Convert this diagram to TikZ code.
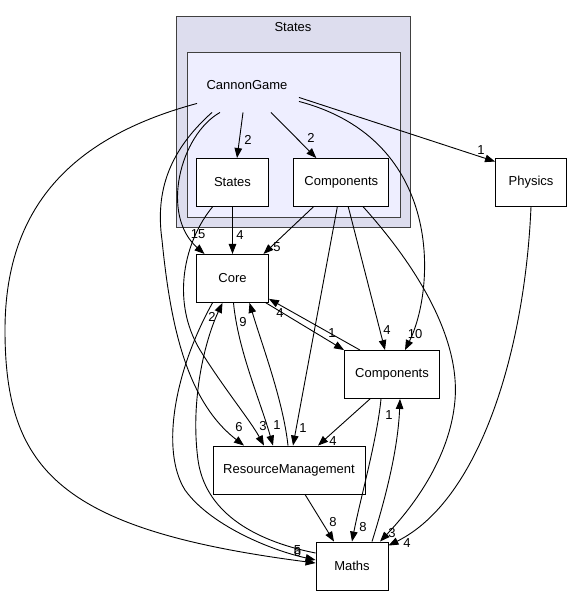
\documentclass[tikz,border=0pt]{standalone}
\usepackage{fontspec}
\setmainfont{Liberation Sans}
\usetikzlibrary{arrows.meta,positioning}

\definecolor{outerfill}{HTML}{DDDDEE}
\definecolor{innerfill}{HTML}{EEEEFF}

\begin{document}
\begin{tikzpicture}[->,>={Triangle[length=10pt,width=7.5pt]},x=1pt,y=1pt,
	line width=0.9pt,font=\fontsize{13}{15}\selectfont]
	\tikzstyle{dir}=[draw=black,fill=white,minimum height=48pt,inner sep=0pt]
	\tikzstyle{cluster}=[draw=black!75,inner sep=0pt]
	\tikzstyle{lbl}=[inner sep=0pt]

	\useasboundingbox (0,0) rectangle (573,-596);

	\node[cluster,fill=outerfill,minimum width=234pt,minimum height=211pt] (statesdir) at (293,-121.5) {};
	\node[lbl] (statestitle) at (293,-27) {States};
	\node[cluster,fill=innerfill,minimum width=213pt,minimum height=165pt] (cgdir) at (293.5,-134.5) {};
	\node[minimum width=112pt,minimum height=54pt,inner sep=0pt] (cg) at (247,-85) {CannonGame};

	\node[dir,minimum width=72pt] (states) at (232.5,-182.5) {States};
	\node[dir,minimum width=95pt] (compin) at (341.3,-182.5) {Components};
	\node[dir,minimum width=71pt] (physics) at (531,-182) {Physics};
	\node[dir,minimum width=72pt] (core) [below=47pt of states] {Core};
	\node[dir,minimum width=95pt] (compout) at (392,-374.5) {Components};
	\node[dir,minimum width=152pt] (rm) at (289,-470) {ResourceManagement};
	\node[dir,minimum width=72pt] (maths) at (352,-566) {Maths};

	\draw ([xshift=-4pt]cg.south) -- ([xshift=4.5pt]states.north)
		node[lbl,at={(248,-140)}] {2};
	\draw ([xshift=24pt]cg.south) -- ([xshift=-25pt]compin.north)
		node[lbl,at={(311,-138)}] {2};
	\draw ([xshift=52pt,yshift=15pt]cg.south) -- ([yshift=-4pt]physics.north west)
		node[lbl,at={(481,-150)}] {1};
	\draw ([xshift=52pt,yshift=11pt]cg.south) .. controls (445,-140) and (435,-290) .. ([xshift=13pt]compout.north)
		node[lbl,at={(415,-334)}] {10};
	\draw ([xshift=-27pt]cg.south) .. controls (180,-135) and (160,-215) .. ([xshift=-28pt]core.north)
		node[lbl,at={(198,-234)}] {15};
	\draw ([xshift=-35pt]cg.south) .. controls (170,-150) and (155,-190) .. (162,-240)
		.. controls (170,-320) and (185,-400) .. ([xshift=-45pt]rm.north)
		node[lbl,at={(239,-427)}] {6};
	\draw ([xshift=-50pt,yshift=9pt]cg.south) .. controls (80,-135) and (5,-200) .. (5,-330)
		.. controls (5,-470) and (60,-530) .. ([yshift=3pt]maths.west)
		node[lbl,at={(297.5,-552)}] {6};

	\draw (states.south) -- (core.north)
		node[lbl,at={(240,-235)}] {4};
	\draw ([xshift=-20pt]states.south) .. controls (185,-240) and (170,-300) .. (200,-350)
		.. controls (225,-390) and (250,-420) .. ([xshift=-25pt]rm.north)
		node[lbl,at={(263,-426)}] {3};

	\draw ([xshift=-28pt]compin.south) -- ([xshift=31pt]core.north)
		node[lbl,at={(277,-247)}] {5};
	\draw ([xshift=-4pt]compin.south) -- ([xshift=4pt]rm.north)
		node[lbl,at={(303,-428)}] {1};
	\draw ([xshift=7pt]compin.south) -- ([xshift=-7pt]compout.north)
		node[lbl,at={(387,-330)}] {4};
	\draw ([xshift=22pt]compin.south) .. controls (420,-270) and (460,-340) .. (455,-400)
		.. controls (450,-460) and (410,-510) .. ([xshift=28pt]maths.north)
		node[lbl,at={(392,-533)}] {3};

	\draw (physics.south) .. controls (525,-350) and (480,-500) .. ([yshift=-4pt]maths.north east)
		node[lbl,at={(407,-543)}] {4};

	\draw ([xshift=-3pt]core.south east) -- (compout.north west)
		node[lbl,at={(332,-333)}] {1};
	\draw ([xshift=-32pt]compout.north) -- ([yshift=4pt]core.south east)
		node[lbl,at={(280,-313)}] {4};
	\draw ([xshift=1pt]core.south) .. controls (238,-350) and (260,-400) .. ([xshift=-16pt]rm.north)
		node[lbl,at={(277,-425)}] {1};
	\draw ([xshift=-1pt]rm.north) .. controls (283,-400) and (262,-345) .. ([xshift=17pt]core.south)
		node[lbl,at={(243,-322)}] {9};
	\draw ([xshift=-20pt]core.south) .. controls (175,-370) and (160,-450) .. (185,-490)
		.. controls (210,-525) and (270,-550) .. ([yshift=6pt]maths.west)
		node[lbl,at={(297.5,-550)}] {5};
	\draw ([yshift=13pt]maths.west) .. controls (250,-540) and (205,-510) .. (198,-460)
		.. controls (190,-400) and (205,-340) .. ([xshift=-10pt]core.south)
		node[lbl,at={(212,-317)}] {2};

	\draw ([xshift=-22pt]compout.south) -- ([xshift=29pt]rm.north)
		node[lbl,at={(333,-441)}] {4};
	\draw ([xshift=-11pt]compout.south) .. controls (377,-440) and (360,-500) .. (maths.north)
		node[lbl,at={(363,-527)}] {8};
	\draw ([xshift=20pt]maths.north) .. controls (385,-500) and (398,-450) .. ([xshift=8pt]compout.south)
		node[lbl,at={(389,-415)}] {1};

	\draw ([xshift=16pt]rm.south) -- ([xshift=-18pt]maths.north)
		node[lbl,at={(333,-522)}] {8};
\end{tikzpicture}
\end{document}
